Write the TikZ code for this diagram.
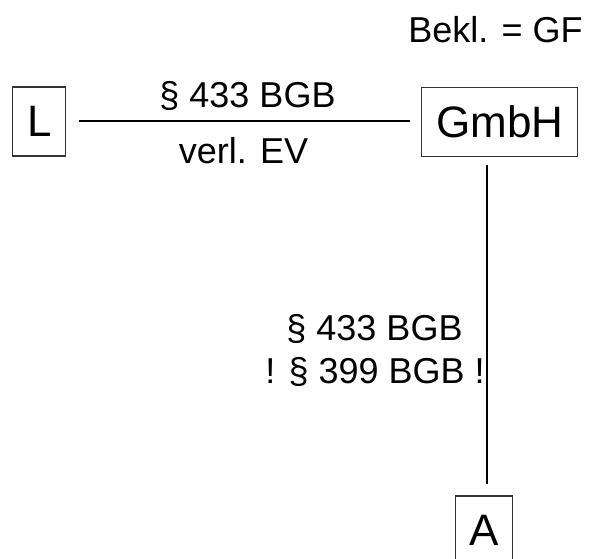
\documentclass[tikz,border=0pt]{standalone}
\usepackage{fontspec}
\setmainfont{Liberation Sans}
\begin{document}
\begin{tikzpicture}[x=1pt,y=-1pt,
  party/.style={draw=black!80, line width=1.1pt, inner sep=0pt, minimum height=69pt,
    font=\fontsize{44}{50}\selectfont, text depth=0pt},
  lbl/.style={inner sep=0pt, font=\fontsize{36}{42}\selectfont, anchor=base},
  conn/.style={line width=2pt, black}]
\useasboundingbox (0,0) rectangle (597,558);
\clip (0,0) rectangle (597,558);
\node[party, minimum width=53pt] (L) at (39.3,121.5) {L};
\node[party, minimum width=156pt] (G) at (499.7,121.7) {GmbH};
\node[party, minimum width=57pt] (A) at (483.7,530.5) {A};
\node[lbl] (bekl) at (495.5,42.3) {Bekl. = GF};
\node[lbl] (l1) at (247.5,107.3) {§ 433 BGB};
\node[lbl] (l2) at (243.5,163.3) {verl. EV};
\node[lbl] (l3) at (374.5,340) {§ 433 BGB};
\node[lbl] (l4) at (375,383) {! § 399 BGB !};
\draw[conn, shorten <=13pt, shorten >=11pt] ([yshift=0.8pt]L.east) -- ([yshift=0.8pt]L.east -| G.west);
\draw[conn, shorten <=8.3pt, shorten >=11pt] ([xshift=-12.4pt]G.south) -- ([xshift=-12.4pt]G.south |- A.north);
\end{tikzpicture}
\end{document}
